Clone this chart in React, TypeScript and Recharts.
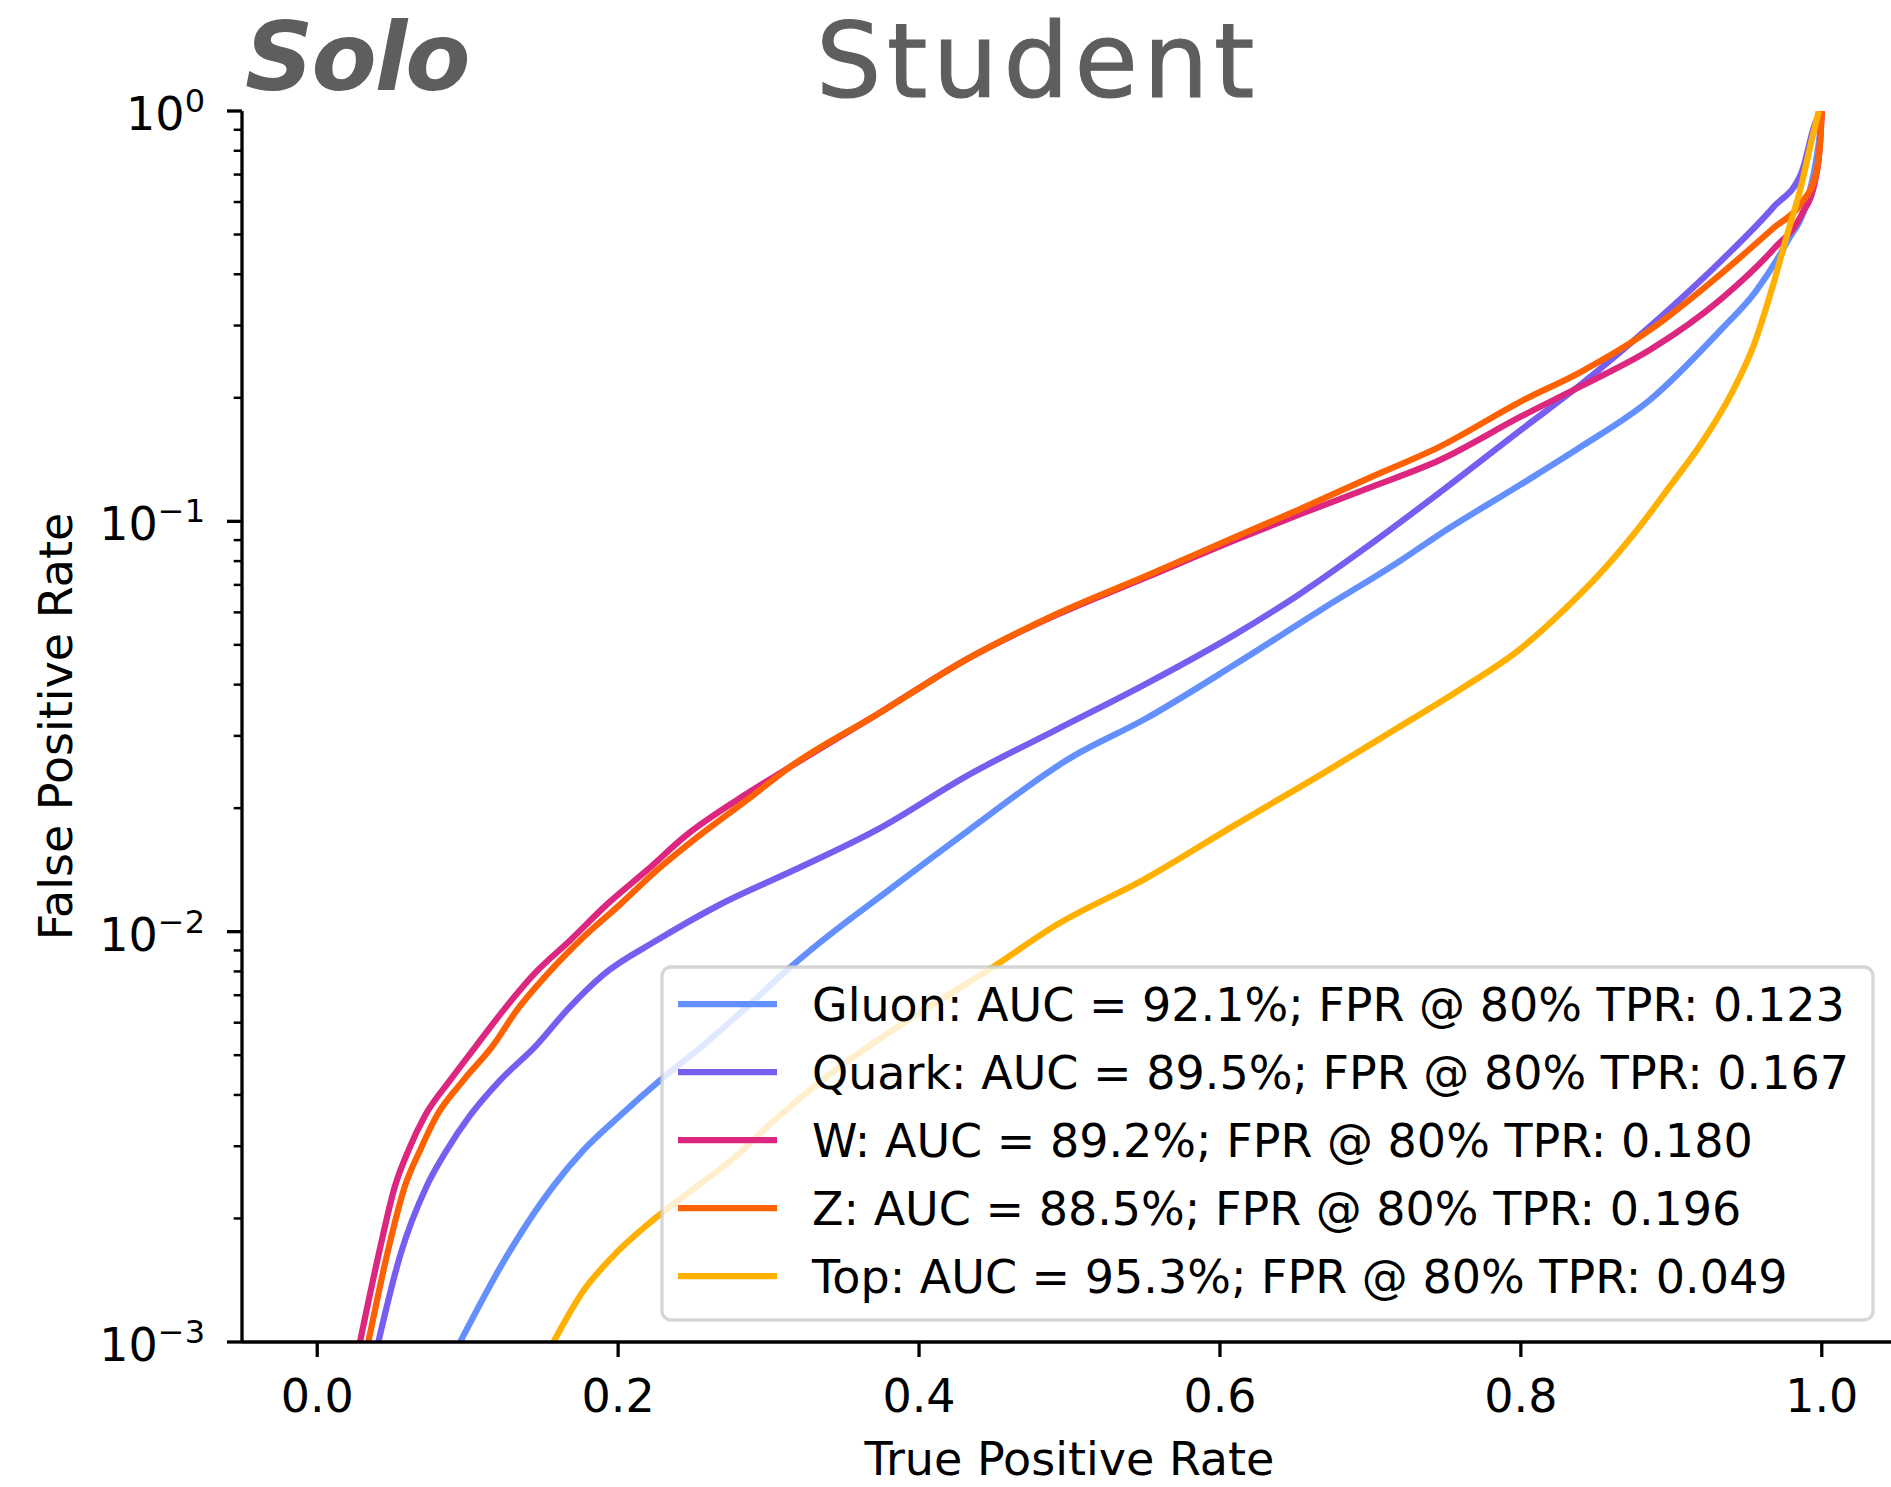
import React from 'react';
import { LineChart, Line, XAxis, YAxis } from 'recharts';

// Series metadata
const seriesNames = ['Gluon', 'Quark', 'W', 'Z', 'Top'];
const seriesColors = ['#648FFF', '#785EF0', '#DC267F', '#FE6100', '#FFB000'];
const aucValues = ['92.1%', '89.5%', '89.2%', '88.5%', '95.3%'];
const fprAt80Tpr = ['0.123', '0.167', '0.180', '0.196', '0.049'];

// ROC curves: true positive rate vs false positive rate
const gluonTpr = [0.095, 0.126, 0.157, 0.1768, 0.2012, 0.2278, 0.2566, 0.2831, 0.313, 0.334, 0.382, 0.4324, 0.5005, 0.551, 0.61, 0.67, 0.7195, 0.746, 0.8, 0.84, 0.886, 0.933, 0.956, 0.977, 0.99, 0.996, 0.999, 1.0];
const gluonFpr = [0.001, 0.00162, 0.0024, 0.00293, 0.00356, 0.00434, 0.00529, 0.00643, 0.0081, 0.0094, 0.0128, 0.0176, 0.0265, 0.0331, 0.0448, 0.0618, 0.08, 0.093, 0.123, 0.152, 0.198, 0.293, 0.363, 0.48, 0.6, 0.75, 0.9, 1.0];

const quarkTpr = [0.0406, 0.055, 0.0728, 0.086, 0.1015, 0.1215, 0.1458, 0.1658, 0.19, 0.2256, 0.2676, 0.3164, 0.373, 0.432, 0.4916, 0.551, 0.61, 0.653, 0.7, 0.746, 0.8, 0.8395, 0.886, 0.933, 0.968, 0.9865, 0.9957, 1.0];
const quarkFpr = [0.001, 0.00162, 0.0024, 0.00293, 0.00356, 0.00434, 0.00529, 0.00643, 0.00785, 0.00952, 0.01164, 0.0141, 0.0178, 0.024, 0.0311, 0.0402, 0.053, 0.0665, 0.0879, 0.1175, 0.167, 0.215, 0.299, 0.431, 0.584, 0.707, 0.935, 1.0];

const wTpr = [0.0284, 0.0406, 0.0517, 0.0606, 0.0716, 0.0882, 0.106, 0.1237, 0.1436, 0.168, 0.1924, 0.219, 0.2455, 0.2787, 0.3135, 0.373, 0.432, 0.4916, 0.551, 0.61, 0.653, 0.7, 0.746, 0.8, 0.8395, 0.886, 0.933, 0.968, 0.9865, 0.9957, 0.999, 1.0];
const wFpr = [0.001, 0.00162, 0.0024, 0.00293, 0.00356, 0.00434, 0.00529, 0.00643, 0.00785, 0.00952, 0.01164, 0.0141, 0.0172, 0.0209, 0.0251, 0.034, 0.0462, 0.0592, 0.073, 0.09, 0.104, 0.121, 0.141, 0.18, 0.213, 0.262, 0.348, 0.461, 0.558, 0.679, 0.85, 1.0];

const zTpr = [0.034, 0.0462, 0.0583, 0.0683, 0.0794, 0.0971, 0.117, 0.1326, 0.1525, 0.1746, 0.2012, 0.2256, 0.2544, 0.2854, 0.3135, 0.373, 0.432, 0.4916, 0.551, 0.61, 0.653, 0.7, 0.746, 0.8, 0.8395, 0.886, 0.933, 0.968, 0.9865, 0.9957, 0.999, 1.0];
const zFpr = [0.001, 0.00162, 0.0024, 0.00293, 0.00356, 0.00434, 0.00529, 0.00643, 0.00785, 0.00952, 0.01164, 0.0141, 0.0172, 0.0209, 0.0251, 0.034, 0.0462, 0.0595, 0.0736, 0.0915, 0.107, 0.128, 0.152, 0.196, 0.231, 0.293, 0.401, 0.519, 0.597, 0.692, 0.85, 1.0];

const topTpr = [0.157, 0.1767, 0.1967, 0.223, 0.25, 0.279, 0.305, 0.334, 0.39, 0.447, 0.4916, 0.551, 0.61, 0.67, 0.717, 0.76, 0.8, 0.83, 0.851, 0.875, 0.9, 0.92, 0.94, 0.955, 0.967, 0.977, 0.986, 0.993, 0.998];
const topFpr = [0.001, 0.00133, 0.00162, 0.00198, 0.00236, 0.00285, 0.0035, 0.0043, 0.006, 0.0081, 0.0104, 0.0135, 0.0182, 0.0245, 0.0312, 0.039, 0.049, 0.0615, 0.0735, 0.093, 0.123, 0.155, 0.205, 0.27, 0.37, 0.5, 0.65, 0.84, 1.0];

// Axis ticks
const xTicks = [0, 0.2, 0.4, 0.6, 0.8, 1.0];
const yTicks = [
  0.001, 0.002, 0.003, 0.004, 0.005, 0.006, 0.007, 0.008, 0.009,
  0.01, 0.02, 0.03, 0.04, 0.05, 0.06, 0.07, 0.08, 0.09,
  0.1, 0.2, 0.3, 0.4, 0.5, 0.6, 0.7, 0.8, 0.9,
  1,
];

const tprSeries = [gluonTpr, quarkTpr, wTpr, zTpr, topTpr];
const fprSeries = [gluonFpr, quarkFpr, wFpr, zFpr, topFpr];

const curves = seriesNames.map((name, i) => ({
  name,
  color: seriesColors[i],
  label: `${name}: AUC = ${aucValues[i]}; FPR @ 80% TPR: ${fprAt80Tpr[i]}`,
  points: tprSeries[i].map((t, j) => ({ tpr: t, fpr: fprSeries[i][j] })),
}));

const FONT = "'DejaVu Sans', sans-serif";
const W = 1891;
const H = 1487;
const CHART_W = 1960;
const PLOT = { left: 242, top: 111, right: 1897, bottom: 1342 };
const LINE_W = 6.25;
const TITLE_GRAY = '#5e5e5e';

// Log-axis tick: long ticks with 10^n labels on decades, short ticks between
const LogTick = (props: any) => {
  const { x, y, payload } = props;
  const v = payload.value as number;
  const e = Math.log10(v);
  const major = Math.abs(e - Math.round(e)) < 1e-6;
  const n = Math.round(e);
  return (
    <g>
      <line
        x1={x - (major ? 15 : 8.3)}
        x2={x}
        y1={y}
        y2={y}
        stroke="#000"
        strokeWidth={major ? 3.3 : 2.5}
      />
      {major && (
        <text x={x - 37} y={y + 19} textAnchor="end" fontSize={46} fontFamily={FONT} fill="#000">
          10
          <tspan dy={-18} fontSize={32}>
            {n === 0 ? '0' : '\u2212' + String(-n)}
          </tspan>
        </text>
      )}
    </g>
  );
};

const Legend = () => {
  const left = 662;
  const top = 967;
  const rowY = [1004, 1072, 1140, 1208, 1276];
  return (
    <g>
      <rect
        x={left}
        y={top}
        width={1211}
        height={353}
        rx={9}
        ry={9}
        fill="#fff"
        fillOpacity={0.8}
        stroke="#cccccc"
        strokeOpacity={0.8}
        strokeWidth={3.3}
      />
      {curves.map((c, i) => (
        <g key={c.name}>
          <line x1={678} x2={777} y1={rowY[i]} y2={rowY[i]} stroke={c.color} strokeWidth={LINE_W} />
          <text x={812} y={rowY[i] + 16.5} fontSize={46} fontFamily={FONT} fill="#000">
            {c.label}
          </text>
        </g>
      ))}
    </g>
  );
};

export default function App() {
  return (
    <div
      style={{
        position: 'fixed',
        left: 0,
        top: 0,
        width: W,
        height: H,
        overflow: 'hidden',
        background: '#fff',
      }}
    >
      <div style={{ position: 'absolute', left: 0, top: 0 }}>
        <LineChart
          width={CHART_W}
          height={H}
          margin={{ top: PLOT.top, right: CHART_W - PLOT.right, bottom: 0, left: 0 }}
        >
          <XAxis
            xAxisId={0}
            type="number"
            dataKey="tpr"
            domain={[-0.05, 1.05]}
            ticks={xTicks}
            allowDataOverflow
            tickFormatter={(v: number) => v.toFixed(1)}
            height={H - PLOT.bottom}
            tickSize={15}
            tickMargin={22}
            tick={{ fill: '#000', fontSize: 46, fontFamily: FONT }}
            tickLine={{ stroke: '#000', strokeWidth: 3.3 }}
            axisLine={{ stroke: '#000', strokeWidth: 3.3 }}
          />
          <XAxis
            xAxisId="top"
            orientation="top"
            type="number"
            domain={[-0.05, 1.05]}
            height={0}
            tick={false}
            tickLine={false}
            axisLine={{ stroke: '#000', strokeWidth: 3.3 }}
          />
          <YAxis
            type="number"
            scale="log"
            domain={[0.001, 1]}
            allowDataOverflow
            ticks={yTicks}
            interval={0}
            width={PLOT.left}
            tickSize={0}
            tickMargin={0}
            tickLine={false}
            tick={<LogTick />}
            axisLine={{ stroke: '#000', strokeWidth: 3.3 }}
          />
          {curves.map((c) => (
            <Line
              key={c.name}
              data={c.points}
              dataKey="fpr"
              name={c.name}
              type="monotoneX"
              stroke={c.color}
              strokeWidth={LINE_W}
              dot={false}
              activeDot={false}
              isAnimationActive={false}
            />
          ))}
        </LineChart>
      </div>
      <svg
        width={W}
        height={H}
        style={{ position: 'absolute', left: 0, top: 0, pointerEvents: 'none' }}
      >
        <text
          x={245}
          y={90}
          fontFamily={FONT}
          fontStyle="oblique"
          fontWeight={700}
          fontSize={95}
          letterSpacing={-2}
          fill={TITLE_GRAY}
        >
          Solo
        </text>
        <text
          x={816}
          y={97}
          fontFamily={FONT}
          fontWeight={400}
          fontSize={103}
          letterSpacing={5.5}
          fill={TITLE_GRAY}
          stroke={TITLE_GRAY}
          strokeWidth={1.2}
        >
          Student
        </text>
        <text
          x={(PLOT.left + PLOT.right) / 2}
          y={1475}
          textAnchor="middle"
          fontFamily={FONT}
          fontSize={46}
          fill="#000"
        >
          True Positive Rate
        </text>
        <text
          transform={`translate(72, ${(PLOT.top + PLOT.bottom) / 2}) rotate(-90)`}
          textAnchor="middle"
          fontFamily={FONT}
          fontSize={46}
          fill="#000"
        >
          False Positive Rate
        </text>
        <Legend />
      </svg>
    </div>
  );
}
